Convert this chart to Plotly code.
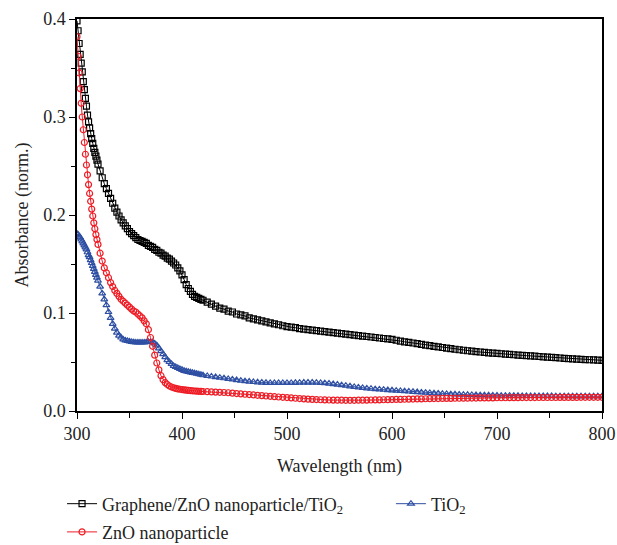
import plotly.graph_objects as go

# Sampling grid (nm)
wl_a = list(range(300, 321, 1))   # 21 points
wl_b = list(range(322, 421, 2))   # 50 points
wl_c = list(range(424, 801, 4))   # 95 points
wavelength = wl_a + wl_b + wl_c

graphene = [
    # 300-320
    0.398, 0.388, 0.375, 0.364, 0.355, 0.346, 0.336, 0.328, 0.319, 0.311,
    0.302, 0.295, 0.289, 0.283, 0.278, 0.273, 0.268, 0.264, 0.260, 0.256, 0.252,
    # 322-420
    0.245, 0.238, 0.232, 0.227, 0.222, 0.217, 0.212, 0.207, 0.203, 0.199,
    0.195, 0.192, 0.189, 0.186, 0.183, 0.181, 0.179, 0.177, 0.175, 0.174,
    0.173, 0.172, 0.171, 0.169, 0.168, 0.167, 0.165, 0.164, 0.162, 0.161,
    0.159, 0.158, 0.156, 0.155, 0.153, 0.151, 0.149, 0.146, 0.143, 0.139,
    0.134, 0.129, 0.125, 0.122, 0.119, 0.117, 0.116, 0.115, 0.114, 0.113,
    # 424-800
    0.111, 0.109, 0.107, 0.105, 0.104, 0.102, 0.101, 0.099, 0.098, 0.097,
    0.095, 0.094, 0.093, 0.092, 0.091, 0.090, 0.089, 0.088, 0.087, 0.086,
    0.0855, 0.085, 0.084, 0.0835, 0.083, 0.0825, 0.082, 0.0815, 0.081, 0.0805,
    0.080, 0.0795, 0.079, 0.0785, 0.078, 0.0775, 0.077, 0.0765, 0.076, 0.0755,
    0.075, 0.0745, 0.074, 0.0735, 0.073, 0.0722, 0.0714, 0.0706, 0.070, 0.0694,
    0.0688, 0.068, 0.0673, 0.0667, 0.066, 0.0654, 0.0648, 0.0642, 0.0636, 0.063,
    0.0625, 0.062, 0.0615, 0.061, 0.0606, 0.0602, 0.0598, 0.0594, 0.059, 0.0587,
    0.0584, 0.058, 0.0577, 0.0574, 0.0571, 0.0568, 0.0565, 0.0562, 0.0559, 0.0556,
    0.0553, 0.055, 0.0547, 0.0544, 0.0541, 0.0538, 0.0535, 0.0532, 0.0529, 0.0527,
    0.0525, 0.0523, 0.0521, 0.0519, 0.0517,
]

zno = [
    # 300-320
    0.382, 0.362, 0.345, 0.329, 0.314, 0.300, 0.287, 0.274, 0.262, 0.251,
    0.241, 0.231, 0.222, 0.214, 0.206, 0.199, 0.192, 0.186, 0.180, 0.175, 0.170,
    # 322-420
    0.161, 0.153, 0.146, 0.141, 0.136, 0.131, 0.127, 0.123, 0.120, 0.117,
    0.114, 0.112, 0.110, 0.108, 0.106, 0.104, 0.102, 0.101, 0.099, 0.097,
    0.095, 0.092, 0.089, 0.083, 0.075, 0.066, 0.057, 0.049, 0.042, 0.036,
    0.032, 0.029, 0.027, 0.0255, 0.0245, 0.0237, 0.0231, 0.0226, 0.0222, 0.0219,
    0.0216, 0.0213, 0.021, 0.0208, 0.0206, 0.0204, 0.0202, 0.0201, 0.02, 0.0199,
    # 424-800
    0.0197, 0.0195, 0.0193, 0.0191, 0.0189, 0.0186, 0.0182, 0.0178, 0.0174, 0.0171,
    0.0168, 0.0164, 0.016, 0.0157, 0.0153, 0.015, 0.0146, 0.0143, 0.014, 0.0137,
    0.0133, 0.013, 0.0127, 0.0124, 0.0121, 0.0119, 0.0117, 0.0115, 0.0113, 0.0112,
    0.0111, 0.011, 0.011, 0.0109, 0.0109, 0.0109, 0.011, 0.011, 0.0111, 0.0112,
    0.0113, 0.0114, 0.0115, 0.0116, 0.0117, 0.0118, 0.0119, 0.012, 0.0121, 0.0122,
    0.0123, 0.0124, 0.0125, 0.0126, 0.0127, 0.0127, 0.0128, 0.0129, 0.0129, 0.013,
    0.013, 0.0131, 0.0131, 0.0132, 0.0132, 0.0133, 0.0133, 0.0134, 0.0134, 0.0135,
    0.0135, 0.0135, 0.0136, 0.0136, 0.0136, 0.0137, 0.0137, 0.0137, 0.0137, 0.0138,
    0.0138, 0.0138, 0.0138, 0.0138, 0.0139, 0.0139, 0.0139, 0.0139, 0.0139, 0.014,
    0.014, 0.014, 0.014, 0.014, 0.014,
]

tio2 = [
    # 300-320
    0.181, 0.180, 0.178, 0.177, 0.175, 0.173, 0.171, 0.169, 0.167, 0.165,
    0.162, 0.159, 0.157, 0.154, 0.151, 0.148, 0.145, 0.142, 0.139, 0.136, 0.133,
    # 322-420
    0.127, 0.120, 0.114, 0.108, 0.101, 0.095, 0.089, 0.084, 0.080, 0.077,
    0.075, 0.073, 0.072, 0.0715, 0.071, 0.0705, 0.0703, 0.070, 0.070, 0.070,
    0.070, 0.070, 0.0702, 0.0704, 0.0705, 0.0703, 0.069, 0.067, 0.064, 0.061,
    0.058, 0.055, 0.052, 0.050, 0.048, 0.046, 0.045, 0.044, 0.043, 0.042,
    0.041, 0.0405, 0.040, 0.0395, 0.039, 0.0385, 0.038, 0.0375, 0.037, 0.0365,
    # 424-800
    0.0358, 0.0352, 0.0346, 0.034, 0.0334, 0.0328, 0.0322, 0.0316, 0.031, 0.0305,
    0.030, 0.0296, 0.0293, 0.029, 0.0288, 0.0287, 0.0286, 0.0286, 0.0286, 0.0286,
    0.0287, 0.0288, 0.0289, 0.029, 0.029, 0.029, 0.0289, 0.0287, 0.0284, 0.028,
    0.0275, 0.027, 0.0264, 0.0258, 0.0252, 0.0246, 0.0241, 0.0236, 0.0231, 0.0227,
    0.0223, 0.022, 0.0217, 0.0214, 0.0211, 0.0208, 0.0205, 0.0202, 0.0199, 0.0196,
    0.0193, 0.019, 0.0187, 0.0184, 0.0181, 0.0179, 0.0176, 0.0174, 0.0172, 0.017,
    0.0168, 0.0166, 0.0165, 0.0164, 0.0163, 0.0162, 0.0161, 0.016, 0.0159, 0.0158,
    0.0157, 0.0156, 0.0156, 0.0155, 0.0155, 0.0154, 0.0154, 0.0153, 0.0153, 0.0153,
    0.0152, 0.0152, 0.0152, 0.0151, 0.0151, 0.0151, 0.0151, 0.015, 0.015, 0.015,
    0.015, 0.015, 0.015, 0.015, 0.015,
]

names = ["Graphene/ZnO nanoparticle/TiO<sub>2</sub>", "ZnO nanoparticle", "TiO<sub>2</sub>"]
colors = ["#000000", "#ee1c25", "#2e4fa3"]
symbols = ["square-open", "circle-open", "triangle-up-open"]

FONT = "Liberation Serif, Times New Roman, serif"

fig = go.Figure()
# draw order: black, blue, red (red on top); each entry in its own legend box
series = [(graphene, 0, "legend"), (tio2, 2, "legend3"), (zno, 1, "legend2")]
for vals, i, lg in series:
    fig.add_trace(go.Scatter(
        x=wavelength, y=vals, name=names[i], mode="lines+markers",
        line=dict(color=colors[i], width=1),
        marker=dict(symbol=symbols[i], size=6, color=colors[i],
                    line=dict(width=1.2, color=colors[i])),
        legend=lg,
    ))

axis_common = dict(
    showline=True, linecolor="black", linewidth=1.5, mirror=True,
    showgrid=False, zeroline=False,
    ticks="outside", tickcolor="black", tickwidth=1.3, ticklen=6,
    tickfont=dict(family=FONT, size=18, color="#222"),
)

leg_common = dict(
    orientation="v", xanchor="left", yanchor="top",
    font=dict(family=FONT, size=18, color="#222"),
    bgcolor="rgba(0,0,0,0)",
)

fig.update_layout(
    width=617, height=545,
    margin=dict(l=77, r=15, t=19, b=134, autoexpand=False),
    paper_bgcolor="white", plot_bgcolor="white",
    font=dict(family=FONT, size=18, color="#222"),
    xaxis=dict(
        range=[300, 800], dtick=100, **axis_common,
        minor=dict(dtick=50, ticks="outside", ticklen=5, tickwidth=1.3, tickcolor="black"),
        title=dict(text="Wavelength (nm)", font=dict(family=FONT, size=18), standoff=16),
    ),
    yaxis=dict(
        range=[0, 0.4], dtick=0.1, tickformat=".1f", **axis_common,
        minor=dict(dtick=0.05, ticks="outside", ticklen=4, tickwidth=1.3, tickcolor="black"),
        title=dict(text="Absorbance (norm.)", font=dict(family=FONT, size=18), standoff=10),
    ),
    xaxis2=dict(range=[300, 800], overlaying="x", side="top", anchor="y",
                showgrid=False, zeroline=False, showticklabels=False,
                ticks="inside", dtick=50, ticklen=4, tickwidth=1.2, tickcolor="black"),
    yaxis2=dict(range=[0, 0.4], overlaying="y", side="right", anchor="x",
                showgrid=False, zeroline=False, showticklabels=False,
                ticks="inside", dtick=0.05, ticklen=4, tickwidth=1.2, tickcolor="black"),
    legend=dict(x=-0.0285, y=-0.19, **leg_common),
    legend2=dict(x=-0.0285, y=-0.262, **leg_common),
    legend3=dict(x=0.598, y=-0.19, **leg_common),
    showlegend=True,
)

fig.write_html("out.html",
               config={"displayModeBar": False},
               post_script="document.body.style.margin='0';document.body.style.overflow='hidden';")
